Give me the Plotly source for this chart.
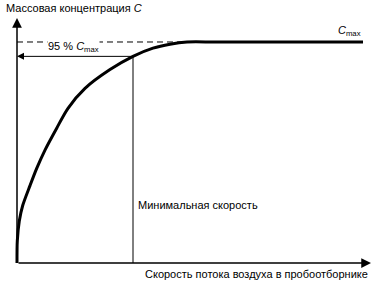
import plotly.graph_objects as go

# data (arbitrary units: x = air-flow speed, y = C / Cmax)
curve_x = [0, 0.3, 2.3, 5.7, 13, 19.7, 28, 39.7, 51, 68, 93, 116, 136, 153, 170, 200, 346]
curve_y = [0, 0.10, 0.19, 0.26, 0.35, 0.428, 0.511, 0.61, 0.70, 0.79, 0.875, 0.935, 0.972, 0.99, 1.0, 1.0, 1.0]
c_max = 1.0
c_95 = 0.935
x_min_speed = 116
x_axis_end = 354
y_axis_end = 1.109
dash_end = 173

FONT = "Liberation Sans, Arial, sans-serif"

fig = go.Figure()
# dashed Cmax reference line
fig.add_trace(go.Scatter(x=[0, dash_end], y=[c_max, c_max], mode="lines",
                         line=dict(color="black", width=1, dash="6px,4px"),
                         hoverinfo="skip", showlegend=False))
# vertical minimal-speed line
fig.add_trace(go.Scatter(x=[x_min_speed, x_min_speed], y=[0, c_95], mode="lines",
                         line=dict(color="black", width=1),
                         hoverinfo="skip", showlegend=False))
# curve
fig.add_trace(go.Scatter(x=curve_x, y=curve_y, mode="lines",
                         line=dict(color="black", width=3, shape="spline", smoothing=0.8),
                         hoverinfo="skip", showlegend=False))

def arrow(x0, y0, x1, y1, width=1.5, head=2, size=1.0):
    fig.add_annotation(x=x1, y=y1, ax=x0, ay=y0, xref="x", yref="y",
                       axref="x", ayref="y", text="", showarrow=True,
                       arrowhead=head, arrowsize=size, arrowwidth=width,
                       arrowcolor="black")

arrow(0, 0, x_axis_end, 0, width=1.5, head=2, size=1.3)
arrow(0, 0, 0, y_axis_end, width=1.5, head=2, size=1.3)
arrow(x_min_speed, c_95, 0, c_95, width=1, head=2, size=1.4)

fig.add_annotation(x=-13, y=1.155, xref="x", yref="y", text="Массовая концентрация <i>C</i>",
                   showarrow=False, xanchor="left", yanchor="middle",
                   font=dict(family=FONT, size=11, color="black"))
fig.add_annotation(x=30, y=0.978, xref="x", yref="y", text="95 % <i>C</i><sub>max</sub>",
                   showarrow=False, xanchor="left", yanchor="middle", bgcolor="white",
                   borderpad=0,
                   font=dict(family=FONT, size=11, color="black"))
fig.add_annotation(x=346, y=1.0, xref="x", yref="y", text="<i>C</i><sub>max</sub>",
                   showarrow=False, xanchor="right", yanchor="bottom", yshift=2,
                   font=dict(family=FONT, size=11, color="black"))
fig.add_annotation(x=119, y=0.262, xref="x", yref="y", text="Минимальная скорость",
                   showarrow=False, xanchor="left", yanchor="middle",
                   font=dict(family=FONT, size=11, color="black"))
fig.add_annotation(x=353, y=-0.05, xref="x", yref="y",
                   text="Скорость потока воздуха в пробоотборнике",
                   showarrow=False, xanchor="right", yanchor="middle",
                   font=dict(family=FONT, size=11, color="black"))

fig.update_layout(width=374, height=284, margin=dict(l=0, r=0, t=0, b=0),
                  paper_bgcolor="white", plot_bgcolor="white",
                  xaxis=dict(range=[-17, 357], visible=False, fixedrange=True),
                  yaxis=dict(range=[-0.095, 1.190], visible=False, fixedrange=True))
fig.write_html("out.html")
